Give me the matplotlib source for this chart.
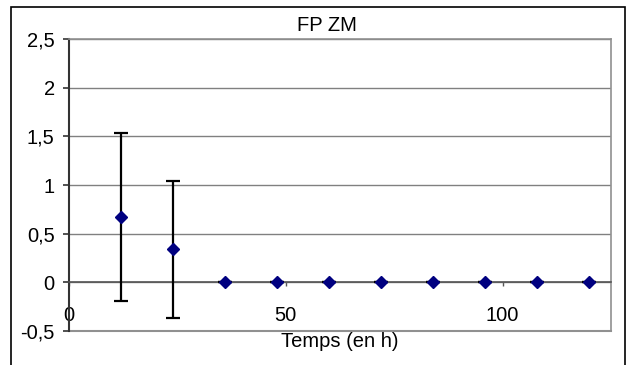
import matplotlib
matplotlib.use("Agg")
import matplotlib.pyplot as plt
from matplotlib.patches import Rectangle
from matplotlib.ticker import FuncFormatter

plt.rcParams["font.family"] = ["Liberation Sans", "DejaVu Sans"]

# mean values and standard deviations over time
hours = [12, 24, 36, 48, 60, 72, 84, 96, 108, 120]
values = [0.675, 0.341, 0, 0, 0, 0, 0, 0, 0, 0]
errors = [0.862, 0.705, 0, 0, 0, 0, 0, 0, 0, 0]
y_ticks = [-0.5, 0, 0.5, 1, 1.5, 2, 2.5]
x_ticks = [0, 50, 100]

fig = plt.figure(figsize=(6.35, 3.65), dpi=100)
ax = fig.add_axes([69 / 635, 1 - 331 / 365, 542 / 635, 292 / 365])

# outer chart frame (runs off the bottom edge)
fig.patches.append(Rectangle((11 / 635, -0.05), 614 / 635, 1 - 7 / 365 + 0.05,
                             transform=fig.transFigure, fill=False, edgecolor="black", lw=1.2))

ax.set_xlim(0, 125)
ax.set_ylim(-0.5, 2.5)
ax.set_yticks(y_ticks)
ax.yaxis.set_major_formatter(FuncFormatter(lambda v, _: f"{v:g}".replace(".", ",")))
ax.set_xticks(x_ticks)
ax.grid(axis="y", color="#808080", lw=1.0)
ax.set_axisbelow(True)

for side in ("top", "right"):
    ax.spines[side].set_color("#909090")
    ax.spines[side].set_linewidth(1.2)
ax.spines["left"].set_color("#333333")
ax.spines["left"].set_linewidth(1.5)
ax.spines["bottom"].set_position(("data", 0))
ax.spines["bottom"].set_color("#555555")
ax.spines["bottom"].set_linewidth(1.2)
ax.axhline(-0.5, color="#909090", lw=1.5, clip_on=False, zorder=1)

ax.tick_params(axis="y", length=4.3, width=1.2, color="#333333", labelsize=14.5, pad=6)
ax.tick_params(axis="x", length=3, width=1.0, color="#555555", labelsize=14.5, pad=14)

ax.errorbar(hours, values, yerr=errors, fmt="D", color="#000080", ms=6.5,
            ecolor="black", elinewidth=1.6, capsize=5, capthick=1.6, zorder=3)

ax.set_title("FP ZM", fontsize=14.5, pad=6, x=0.475)
ax.set_xlabel("Temps (en h)", fontsize=14.5)
ax.xaxis.set_label_coords(0.5, -0.005)

fig.savefig("out.png", dpi=100)
